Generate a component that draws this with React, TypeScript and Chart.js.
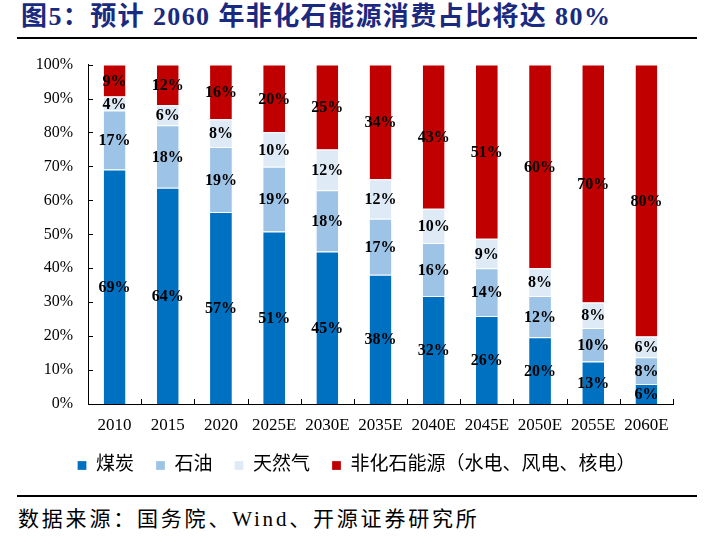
import React, { useEffect, useRef } from 'react';
import { Chart, registerables } from 'chart.js';

Chart.register(...registerables);

const years = ['2010', '2015', '2020', '2025E', '2030E', '2035E', '2040E', '2045E', '2050E', '2055E', '2060E'];
const coal = [69.1, 63.7, 56.6, 50.8, 44.9, 38.1, 31.8, 25.9, 19.7, 12.5, 5.9];
const oil = [17.4, 18.4, 19.1, 19.1, 18.1, 16.5, 15.6, 14.1, 12.1, 9.9, 7.9];
const gas = [4.1, 5.9, 8.2, 10.2, 12.0, 11.6, 10.1, 8.7, 8.2, 7.5, 6.1];
const nonFossil = [9.4, 12.0, 16.1, 19.9, 25.0, 33.8, 42.5, 51.3, 60.0, 70.1, 80.1];
const seriesNames = ['煤炭', '石油', '天然气', '非化石能源（水电、风电、核电）'];

const SERIF = "'Liberation Serif', 'Noto Sans CJK SC', serif";
const CJK = "'Liberation Serif', 'Noto Sans CJK SC', sans-serif";

const segmentLabels = {
    id: 'segmentLabels',
    afterDatasetsDraw(chart: any) {
        const ctx = chart.ctx;
        ctx.save();
        ctx.font = `bold 16px ${SERIF}`;
        ctx.fillStyle = '#000';
        ctx.textAlign = 'center';
        ctx.textBaseline = 'middle';
        chart.data.datasets.forEach((ds: any, i: number) => {
            const meta = chart.getDatasetMeta(i);
            meta.data.forEach((bar: any, j: number) => {
                const v = ds.data[j] as number;
                ctx.fillText(Math.round(v) + '%', bar.x, (bar.y + bar.base) / 2 + 1);
            });
        });
        ctx.restore();
    },
};

// tick marks point inward, like the original
const innerTicks = {
    id: 'innerTicks',
    afterDraw(chart: any) {
        const { ctx, chartArea, scales } = chart;
        ctx.save();
        ctx.strokeStyle = '#000';
        ctx.lineWidth = 1;
        ctx.beginPath();
        for (let i = 1; i <= years.length; i++) {
            const px = Math.round(scales.x.getPixelForValue(i - 0.5)) + 0.5;
            ctx.moveTo(px, chartArea.bottom);
            ctx.lineTo(px, chartArea.bottom - 5);
        }
        scales.y.ticks.forEach((_t: any, i: number) => {
            const py = Math.round(scales.y.getPixelForTick(i)) + 0.5;
            ctx.moveTo(chartArea.left, py);
            ctx.lineTo(chartArea.left + 5, py);
        });
        ctx.stroke();
        ctx.restore();
    },
};

const EnergyChart: React.FC = () => {
    const chartRef = useRef<HTMLCanvasElement>(null);
    const chartInstance = useRef<Chart | null>(null);

    useEffect(() => {
        if (!chartRef.current) return;
        const ctx = chartRef.current.getContext('2d');
        if (!ctx) return;
        if (chartInstance.current) chartInstance.current.destroy();

        const colors = ['#0070C0', '#9DC3E6', '#DEEBF7', '#C00000'];
        const values = [coal, oil, gas, nonFossil];

        chartInstance.current = new Chart(ctx, {
            type: 'bar',
            data: {
                labels: years,
                datasets: values.map((d, i) => ({
                    label: seriesNames[i],
                    data: d,
                    backgroundColor: colors[i],
                    borderColor: '#ffffff',
                    borderWidth: { top: 1, left: 0, right: 0, bottom: 0 },
                    borderSkipped: false,
                    barPercentage: 0.41,
                    categoryPercentage: 1,
                })),
            },
            options: {
                animation: false,
                responsive: true,
                maintainAspectRatio: false,
                layout: { padding: { left: 0, right: 0, top: 23, bottom: 5 } },
                scales: {
                    x: {
                        stacked: true,
                        grid: { display: false, drawTicks: false },
                        border: { display: true, color: '#000', width: 1 },
                        ticks: {
                            color: '#000',
                            font: { family: SERIF, size: 17 },
                            padding: 11,
                            maxRotation: 0,
                            autoSkip: false,
                        },
                        afterFit: (s: any) => { s.height = 30; },
                    },
                    y: {
                        stacked: true,
                        min: 0,
                        max: 100,
                        grid: { display: false, drawTicks: false },
                        border: { display: true, color: '#000', width: 1 },
                        ticks: {
                            stepSize: 10,
                            color: '#000',
                            padding: 15,
                            font: { family: SERIF, size: 16 },
                            callback: (v: any) => v + '%',
                        },
                        afterFit: (s: any) => { s.width = 88; },
                    },
                    yRight: {
                        position: 'right',
                        display: true,
                        grid: { display: false, drawTicks: false },
                        border: { display: false },
                        ticks: { display: false },
                        afterFit: (s: any) => { s.width = 40; },
                    },
                },
                plugins: {
                    legend: {
                        position: 'bottom',
                        labels: {
                            boxWidth: 9,
                            boxHeight: 9,
                            padding: 22,
                            color: '#000',
                            font: { family: CJK, size: 19 },
                        },
                    },
                    title: { display: false },
                    tooltip: { enabled: false },
                },
            },
            plugins: [segmentLabels, innerTicks],
        });

        return () => {
            if (chartInstance.current) {
                chartInstance.current.destroy();
                chartInstance.current = null;
            }
        };
    }, []);

    return (
        <div style={{ position: 'absolute', left: 0, top: 40, width: 713, height: 450 }}>
            <canvas ref={chartRef}></canvas>
        </div>
    );
};

const App: React.FC = () => {
    return (
        <div style={{ position: 'fixed', left: 0, top: 0, width: 713, height: 548, background: '#fff', overflow: 'hidden' }}>
            <div
                style={{
                    position: 'absolute',
                    left: 21,
                    top: 2,
                    fontFamily: CJK,
                    fontWeight: 'bold',
                    fontSize: 26,
                    letterSpacing: 1.4,
                    color: '#1a2a80',
                    whiteSpace: 'nowrap',
                    lineHeight: '30px',
                }}
            >
                图5：预计 2060 年非化石能源消费占比将达 80%
            </div>
            <div style={{ position: 'absolute', left: 17, top: 37, width: 680, height: 2, background: '#000' }} />
            <EnergyChart />
            <div style={{ position: 'absolute', left: 17, top: 495, width: 680, height: 2, background: '#000' }} />
            <div
                style={{
                    position: 'absolute',
                    left: 18,
                    top: 505,
                    fontFamily: CJK,
                    fontSize: 21,
                    letterSpacing: 2.8,
                    color: '#000',
                    whiteSpace: 'nowrap',
                    lineHeight: '28px',
                }}
            >
                数据来源：国务院、Wind、开源证券研究所
            </div>
        </div>
    );
};

export default App;
